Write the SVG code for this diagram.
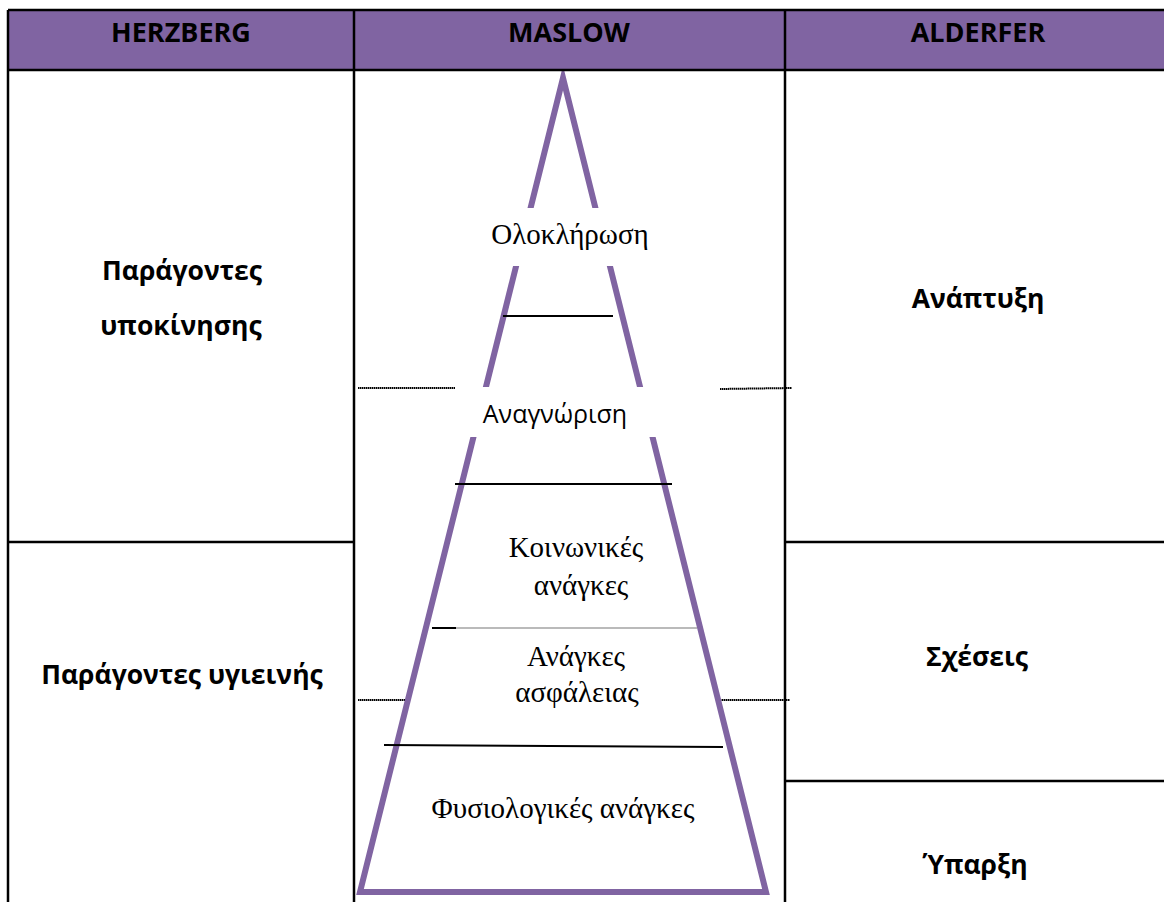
<svg xmlns="http://www.w3.org/2000/svg" width="1164" height="902" viewBox="0 0 1164 902">
<style>
.hdr{font-family:"Open Sans","Liberation Sans",sans-serif;font-weight:bold;font-size:27px;fill:#000;text-anchor:middle}
.bold{font-family:"Open Sans","Liberation Sans",sans-serif;font-weight:bold;font-size:26.5px;fill:#000;text-anchor:middle}
.serif{font-family:"Liberation Serif","Times New Roman",serif;font-size:29px;fill:#000;text-anchor:middle}
.sans{font-family:"Open Sans","Liberation Sans",sans-serif;font-size:25px;fill:#000;text-anchor:middle}
.grid{stroke:#000;stroke-width:2.5;fill:none}
.dot{stroke:#000;stroke-width:2;stroke-dasharray:1.5 0.5;fill:none}
.blk{stroke:#000;stroke-width:2;fill:none}
</style>
<rect width="1164" height="902" fill="#fff"/>
<g id="dotted-lines">
<line class="dot" x1="358" y1="388" x2="455" y2="388"/>
<line class="dot" x1="720" y1="389" x2="792" y2="388"/>
<line class="dot" x1="358" y1="700" x2="410" y2="700"/>
<line class="dot" x1="716" y1="700" x2="790" y2="700"/>
</g>
<g id="pyramid">
<polygon points="563,78 360,892 766,892" fill="#fff" stroke="#8064A2" stroke-width="6" stroke-miterlimit="20"/>
<rect x="470" y="208" width="190" height="58" fill="#fff"/>
<rect x="455" y="387" width="265" height="50" fill="#fff"/>
</g>
<g id="connectors">
<line class="blk" x1="503" y1="316" x2="613" y2="316"/>
<line class="blk" x1="455" y1="484" x2="672" y2="484"/>
<line class="blk" x1="432" y1="628" x2="456" y2="628"/>
<line x1="456" y1="628" x2="697" y2="628" stroke="#777" stroke-width="1.2"/>
<line class="blk" x1="384" y1="745" x2="723" y2="747"/>
</g>
<g id="header">
<rect x="8" y="10" width="1160" height="60" fill="#8064A2"/>
<line class="grid" x1="8" y1="10" x2="1164" y2="10" stroke-width="2"/>
<line class="grid" x1="8" y1="70" x2="1164" y2="70" stroke-width="3"/>
<text class="hdr" x="181" y="42">HERZBERG</text>
<text class="hdr" x="569" y="42">MASLOW</text>
<text class="hdr" x="978" y="42">ALDERFER</text>
</g>
<g id="grid">
<line class="grid" x1="8" y1="10" x2="8" y2="902"/>
<line class="grid" x1="354" y1="10" x2="354" y2="902"/>
<line class="grid" x1="785" y1="10" x2="785" y2="902"/>
<line class="grid" x1="8" y1="542" x2="354" y2="542"/>
<line class="grid" x1="785" y1="542" x2="1164" y2="542"/>
<line class="grid" x1="785" y1="781" x2="1164" y2="781"/>
</g>
<g id="maslow-levels">
<text class="serif" x="570" y="244">Ολοκλήρωση</text>
<text class="sans" x="555" y="423">Αναγνώριση</text>
<text class="serif" x="576" y="557">Κοινωνικές</text>
<text class="serif" x="581" y="595">ανάγκες</text>
<text class="serif" x="576" y="666">Ανάγκες</text>
<text class="serif" x="577" y="702">ασφάλειας</text>
<text class="serif" x="563" y="818">Φυσιολογικές ανάγκες</text>
</g>
<g id="herzberg">
<text class="bold" x="182" y="280">Παράγοντες</text>
<text class="bold" x="181" y="335">υποκίνησης</text>
<text class="bold" x="182" y="684">Παράγοντες υγιεινής</text>
</g>
<g id="alderfer">
<text class="bold" x="978" y="308">Ανάπτυξη</text>
<text class="bold" x="977" y="666">Σχέσεις</text>
<text class="bold" x="975" y="874">Ύπαρξη</text>
</g>
</svg>
